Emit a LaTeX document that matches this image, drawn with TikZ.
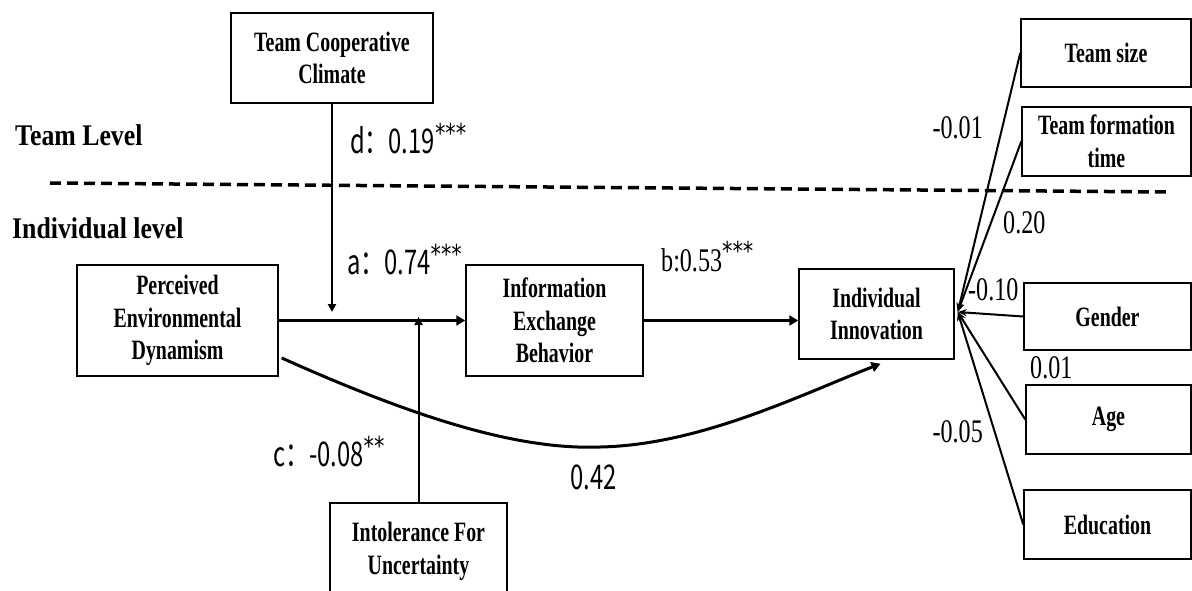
\documentclass[tikz,border=0pt]{standalone}
\usepackage{fontspec}
\usetikzlibrary{arrows.meta,calc}
\newfontfamily\boxfont[FakeStretch=0.71]{Liberation Serif}
\newfontfamily\numfont[FakeStretch=0.73]{Liberation Serif}
\newfontfamily\coeffont[FakeStretch=0.7]{Noto Sans CJK SC}
\newfontfamily\starfont[FakeStretch=0.8]{DejaVu Sans}
\newfontfamily\levelfont[FakeStretch=0.86]{Liberation Serif}
\newcommand{\stars}[1]{\raisebox{11pt}{\starfont\fontsize{26}{26}\selectfont #1}}

\tikzset{
  var/.style={draw, line width=1.5pt, align=center, inner sep=0pt,
    font=\boxfont\bfseries\fontsize{28}{32.5}\selectfont},
  mainarrow/.style={line width=3pt, -{Triangle[length=9pt,width=10pt]}},
  modline/.style={line width=2pt, -{Triangle[length=8pt,width=8pt]}},
  ctrlline/.style={line width=2pt, -{Stealth[length=9pt,width=7pt]}},
  coef/.style={anchor=base west, inner sep=0pt, font=\coeffont\fontsize{34}{34}\selectfont},
  num/.style={inner sep=0pt, font=\numfont\fontsize{33}{33}\selectfont},
  level/.style={anchor=west, inner sep=0pt, font=\levelfont\bfseries\fontsize{30}{30}\selectfont}
}

\begin{document}
\begin{tikzpicture}[x=1pt, y=-1pt]
\useasboundingbox (0,0) rectangle (1192,590);
\clip (0,0) rectangle (1192,590);

% level captions and the dashed boundary between them
\node[level] (teamlevel) at (15,135) {Team Level};
\node[level] (indlevel) at (12,228) {Individual level};
\coordinate (dl) at (50,183);
\coordinate (dr) at (1170,192);
\draw[line width=3.5pt, dash pattern=on 11pt off 6pt] (dl) -- (dr);

% variables
\node[var, minimum width=202pt, minimum height=90pt] (tcc) at (332,58) {Team Cooperative\\Climate};
\node[var, minimum width=201pt, minimum height=111pt] (ped) at (177.5,320.5) {Perceived\\Environmental\\Dynamism};
\node[var, minimum width=177pt, minimum height=111pt] (ieb) at (554.5,320.5) {Information\\Exchange\\Behavior};
\node[var, minimum width=155pt, minimum height=90pt] (ii) at (876.5,314) {Individual\\Innovation};
\node[var, minimum width=177pt, minimum height=97pt] (ifu) at (418.5,551.5) {Intolerance For\\Uncertainty};

% control variables
\node[var, minimum width=170pt, minimum height=68pt] (tsize) at (1106,53) {Team size};
\node[var, minimum width=169pt, minimum height=69pt] (tft) at (1106.5,141.5) {Team formation\\time};
\node[var, minimum width=167pt, minimum height=67pt] (gender) at (1107.5,316.5) {Gender};
\node[var, minimum width=165pt, minimum height=69pt] (age) at (1108.5,419.5) {Age};
\node[var, minimum width=167pt, minimum height=69pt] (edu) at (1107.5,524.5) {Education};

% paths of the model
\coordinate (modtop) at (332,312);
\coordinate (modbot) at (418.5,317);
\draw[modline] (tcc.south) -- (modtop);
\draw[mainarrow] (ped.east) -- (ieb.west);
\draw[modline] (ifu.north) -- (modbot);
\draw[mainarrow] (ieb.east) -- (ieb.east -| ii.west);
\draw[mainarrow] ($(ped.east)+(3,37.5)$) .. controls (420,420) and (520,450) .. (600,447)
  .. controls (700,445) and (800,395) .. ($(ii.south)+(4,4)$);

% control paths converge on the outcome
\coordinate (conv) at ($(ii.east)+(3,-2)$);
\foreach \c in {tsize,tft,gender,age,edu}
  \draw[ctrlline] (\c.west) -- (conv);

% coefficients (placed on their baselines)
\node[coef] (cd) at (350,153) {d：0.19\stars{***}};
\node[coef] (ca) at (347,274) {a：0.74\stars{***}};
\node[coef, font=\numfont\fontsize{33}{33}\selectfont] (cb) at (661,271) {b:0.53\stars{***}};
\node[coef] (cc) at (273,466) {c：-0.08\stars{**}};
\node[coef] (cdir) at (570,489) {0.42};

\node[num, anchor=east] (k1) at (983,128) {-0.01};
\node[num, anchor=west] (k2) at (1003,223) {0.20};
\node[num, anchor=west] (k3) at (968,290) {-0.10};
\node[num, anchor=west] (k4) at (1030,368) {0.01};
\node[num, anchor=east] (k5) at (983,432) {-0.05};
\end{tikzpicture}
\end{document}
